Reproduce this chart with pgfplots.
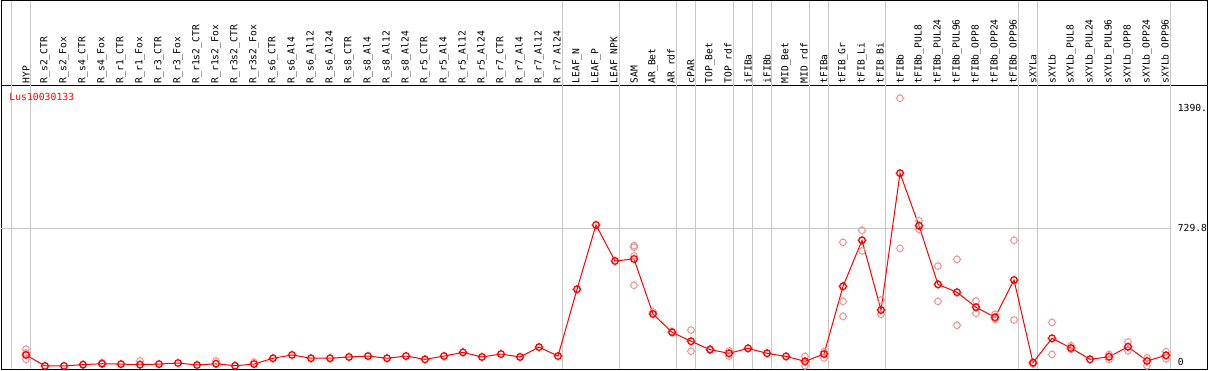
\documentclass[border=0pt]{standalone}
\usepackage{fontspec}
\usepackage{pgfplots}
\usepackage{pgfplotstable}
\pgfplotsset{compat=1.18}
\newfontfamily\lab{DejaVu Sans Mono}
\definecolor{mainred}{RGB}{255,0,0}
\definecolor{palered}{RGB}{234,150,150}
\definecolor{gridgray}{RGB}{200,200,200}

\pgfdeclareplotmark{tgt}{%
  \pgfpathcircle{\pgfpointorigin}{\pgfplotmarksize}%
  \pgfpathmoveto{\pgfpoint{0pt}{\pgfplotmarksize}}\pgfpathlineto{\pgfpoint{0pt}{1.3\pgfplotmarksize}}%
  \pgfpathmoveto{\pgfpoint{0pt}{-\pgfplotmarksize}}\pgfpathlineto{\pgfpoint{0pt}{-1.3\pgfplotmarksize}}%
  \pgfpathmoveto{\pgfpoint{\pgfplotmarksize}{0pt}}\pgfpathlineto{\pgfpoint{1.3\pgfplotmarksize}{0pt}}%
  \pgfpathmoveto{\pgfpoint{-\pgfplotmarksize}{0pt}}\pgfpathlineto{\pgfpoint{-1.3\pgfplotmarksize}{0pt}}%
  \pgfusepathqstroke}

\pgfplotstableread{
x y
0 37
1 -23
2 -23
3 -16
4 -11
5 -13
6 -16
7 -13
8 -7
9 -18
10 -11
11 -22
12 -13
13 19
14 37
15 19
16 19
17 26
18 31
19 19
20 31
21 13
22 31
23 51
24 26
25 42
26 26
27 80
28 31
29 396
30 748
31 551
32 562
33 261
34 161
35 112
36 66
37 46
38 73
39 46
40 29
41 2
42 42
43 412
44 664
45 283
46 1031
47 744
48 423
49 380
50 298
51 243
52 447
53 -5
54 128
55 75
56 13
57 27
58 82
59 4
60 35
}\maindata

\pgfplotstableread{
x y
0 69
0 48
0 13
4 -5
6 4
10 4
12 -3
32 635
32 626
32 578
32 418
33 272
34 165
35 173
35 57
36 70
37 59
37 31
41 29
41 -22
42 55
42 20
43 653
43 330
43 248
44 719
44 606
45 337
45 259
46 1441
46 620
47 771
47 724
48 523
48 330
49 560
49 199
50 332
50 265
51 259
51 232
52 664
52 228
53 -13
54 215
54 40
55 88
55 68
57 40
57 13
58 108
58 60
59 22
59 -22
60 55
60 16
}\repdata

\begin{document}
\begin{tikzpicture}
\begin{axis}[
  scale only axis,
  width=1206.7bp, height=283.5bp,
  xmin=-1.316, xmax=62.195,
  ymin=-39.9, ymax=1510.8,
  clip=false,
  axis line style={line width=1bp, black},
  major tick length=0pt,
  xtick={0,...,60},
  xticklabels={HYP,R\_s2\_CTR,R\_s2\_Fox,R\_s4\_CTR,R\_s4\_Fox,R\_r1\_CTR,R\_r1\_Fox,R\_r3\_CTR,R\_r3\_Fox,R\_r1s2\_CTR,R\_r1s2\_Fox,R\_r3s2\_CTR,R\_r3s2\_Fox,R\_s6\_CTR,R\_s6\_Al4,R\_s6\_Al12,R\_s6\_Al24,R\_s8\_CTR,R\_s8\_Al4,R\_s8\_Al12,R\_s8\_Al24,R\_r5\_CTR,R\_r5\_Al4,R\_r5\_Al12,R\_r5\_Al24,R\_r7\_CTR,R\_r7\_Al4,R\_r7\_Al12,R\_r7\_Al24,LEAF\_N,LEAF\_P,LEAF\_NPK,SAM,AR\_Bet,AR\_rdf,cPAR,TOP\_Bet,TOP\_rdf,iFIBa,iFIBb,MID\_Bet,MID\_rdf,tFIBa,tFIB\_Gr,tFIB\_Li,tFIB\_Bi,tFIBb,tFIBb\_PUL8,tFIBb\_PUL24,tFIBb\_PUL96,tFIBb\_OPP8,tFIBb\_OPP24,tFIBb\_OPP96,sXYLa,sXYLb,sXYLb\_PUL8,sXYLb\_PUL24,sXYLb\_PUL96,sXYLb\_OPP8,sXYLb\_OPP24,sXYLb\_OPP96},
  xticklabel pos=upper,
  xticklabel shift=2bp,
  x tick label style={rotate=90, anchor=west, inner sep=0pt, font=\lab\fontsize{9.7}{10}\selectfont},
  ytick={0,729.8,1390},
  yticklabels={0,729.8,1390.},
  yticklabel pos=right,
  y tick label style={anchor=west, inner sep=0pt, xshift=-30bp, font=\lab\fontsize{9.7}{10}\selectfont},
]
\pgfplotsinvokeforeach{-0.75,0.25,28.25,31.25,34.25,35.25,37.25,38.25,39.25,41.25,42.25,45.25,52.25,53.25,60.25}{
  \draw[gridgray, line width=1bp] (axis cs:#1,-39.9) -- ([yshift=85bp]axis cs:#1,1510.8);
}
\draw[gridgray, line width=1bp] (axis cs:-1.316,729.8) -- (axis cs:60.25,729.8);
\draw[black, line width=1bp] (axis cs:-1.316,1510.8) -- ([yshift=85bp]axis cs:-1.316,1510.8) -- ([yshift=85bp]axis cs:62.195,1510.8) -- (axis cs:62.195,1510.8);
\addplot[only marks, mark=tgt, mark size=3.3bp, palered, mark options={line width=1bp}] table[x=x,y=y]{\repdata};
\addplot[mainred, line width=1bp, mark=tgt, mark size=3.3bp, mark options={line width=1.3bp}] table[x=x,y=y]{\maindata};
\node[anchor=west, inner sep=0pt, text=mainred, font=\lab\fontsize{9.8}{10}\selectfont] at (axis cs:-0.88,1446) {Lus10030133};
\end{axis}
\pgfresetboundingbox
\path ([shift={(-1bp,-1bp)}]current axis.south west) rectangle ([shift={(1.3bp,85.5bp)}]current axis.north east);
\end{tikzpicture}
\end{document}
